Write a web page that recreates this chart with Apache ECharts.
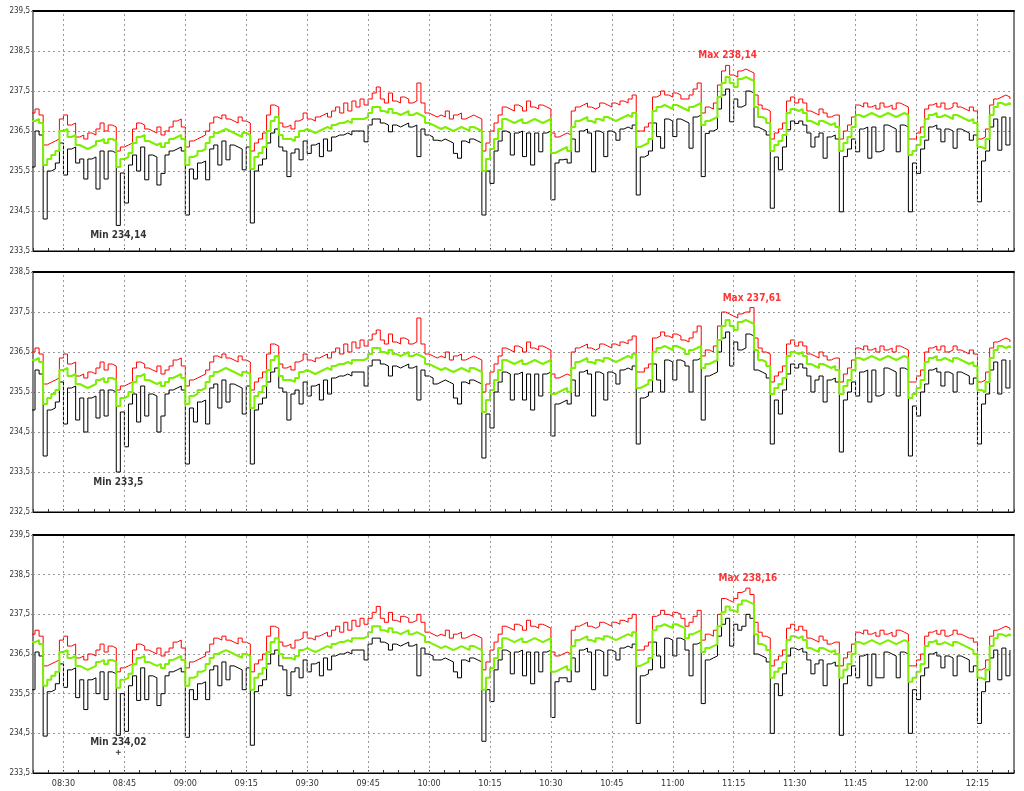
<!DOCTYPE html>
<html><head><meta charset="utf-8">
<script src="https://cdn.jsdelivr.net/npm/echarts@6/dist/echarts.min.js"></script>
<style>html,body{margin:0;padding:0;background:#fff}#c{width:1024px;height:791px}</style>
</head><body><div id="c"></div>
<script>
// first sample 08:22, one sample per minute (each value drawn for the minute that follows it)
const startTime = '08:22';
const timeLabels = ['08:30','08:45','09:00','09:15','09:30','09:45','10:00','10:15','10:30','10:45','11:00','11:15','11:30','11:45','12:00','12:15'];
const panelNames = ['L1N (V)','L2N (V)','L3N (V)'];
const yMins = [233.5, 232.5, 233.5];
const maxMarks = [238.14, 237.61, 238.16];
const maxAt = ['11:13','11:19','11:18'];
const minMarks = [234.14, 233.5, 234.02];
const minAt = ['08:43','08:43','08:43'];

const avg1 = [
236.75,236.8,236.7,235.65,235.8,235.9,236.0,236.5,236.55,236.35,
236.4,236.15,236.1,236.05,236.1,236.15,236.25,236.3,236.2,236.3,
236.25,235.6,235.8,235.85,235.95,236.2,236.35,236.4,236.25,236.2,
236.15,236.2,236.1,236.2,236.3,236.35,236.4,236.3,235.65,235.85,
235.9,236.0,236.05,236.2,236.35,236.45,236.5,236.55,236.5,236.45,
236.4,236.35,236.45,236.4,235.55,235.85,235.95,236.1,236.5,236.75,
236.85,236.4,236.3,236.3,236.25,236.35,236.5,236.55,236.5,236.45,
236.5,236.55,236.6,236.55,236.65,236.7,236.7,236.75,236.7,236.8,
236.8,236.8,236.85,236.95,237.1,237.1,237.0,236.95,237.05,236.95,
236.9,236.95,237.0,236.9,236.95,236.9,236.85,236.7,236.65,236.6,
236.55,236.6,236.55,236.5,236.55,236.6,236.55,236.5,236.6,236.55,
236.5,235.5,235.8,236.05,236.3,236.55,236.8,236.75,236.7,236.75,
236.8,236.7,236.75,236.8,236.75,236.7,236.75,236.8,235.95,236.0,
236.05,236.1,236.0,236.6,236.75,236.8,236.85,236.75,236.7,236.8,
236.75,236.85,236.8,236.75,236.8,236.85,236.9,236.85,236.95,236.1,
236.15,236.2,236.3,237.0,237.1,237.15,237.1,237.05,237.15,237.1,
237.05,237.0,237.1,237.15,237.2,236.65,236.75,236.8,236.85,237.35,
237.7,237.85,237.7,237.6,237.8,237.85,237.8,237.75,237.1,236.85,
236.8,236.7,236.0,236.15,236.25,236.4,236.95,237.05,237.0,237.05,
236.95,236.75,236.7,236.65,236.75,236.7,236.65,236.7,236.6,236.0,
236.2,236.35,236.6,236.9,236.85,236.9,236.95,236.9,236.85,236.9,
236.95,236.9,236.85,236.9,236.95,236.9,235.9,236.0,236.15,236.35,
236.8,236.9,236.95,236.85,236.9,236.85,236.8,236.9,236.85,236.8,
236.75,236.8,236.7,236.1,236.05,236.3,236.9,237.1,237.2,237.15,
237.2,237.15];
const max1 = [
236.95,237.05,236.9,236.15,236.2,236.25,236.3,236.8,236.9,236.65,
236.7,236.35,236.4,236.3,236.45,236.4,236.55,236.7,236.5,236.65,
236.6,236.0,236.1,236.15,236.2,236.55,236.7,236.65,236.55,236.5,
236.45,236.6,236.4,236.5,236.6,236.75,236.8,236.6,236.1,236.25,
236.3,236.35,236.4,236.5,236.7,236.85,236.8,236.9,236.8,236.75,
236.7,236.85,236.75,236.7,236.0,236.2,236.3,236.45,236.9,237.15,
237.1,236.7,236.6,236.65,236.55,236.75,236.8,236.95,236.8,236.75,
236.85,236.9,236.95,236.85,237.0,237.1,236.95,237.2,237.0,237.25,
237.1,237.3,237.15,237.3,237.45,237.6,237.3,237.2,237.45,237.25,
237.2,237.35,237.3,237.2,237.25,237.7,237.2,236.95,236.9,236.85,
236.9,236.85,237.0,236.8,236.9,236.95,236.8,236.85,236.9,236.85,
236.8,236.0,236.2,236.5,236.7,236.9,237.1,237.05,237.0,237.15,
237.1,237.0,237.25,237.1,237.05,237.15,237.1,237.05,236.45,236.35,
236.4,236.45,236.4,237.0,237.1,237.15,237.2,237.1,237.05,237.1,
237.2,237.15,237.1,237.2,237.15,237.25,237.2,237.3,237.4,236.5,
236.5,236.6,236.7,237.35,237.4,237.5,237.4,237.35,237.45,237.4,
237.3,237.3,237.4,237.55,237.7,236.95,237.1,237.05,237.2,237.65,
238.0,238.14,237.9,237.85,238.0,238.05,238.0,237.95,237.4,237.15,
237.05,237.0,236.3,236.45,236.55,236.7,237.25,237.35,237.2,237.3,
237.2,237.0,236.95,236.9,237.05,236.95,236.85,236.9,236.9,236.3,
236.5,236.65,236.85,237.15,237.1,237.2,237.1,237.15,237.05,237.2,
237.1,237.15,237.05,237.2,237.15,237.1,236.3,236.3,236.45,236.6,
237.05,237.15,237.2,237.1,237.2,237.05,237.1,237.2,237.1,237.05,
237.0,237.1,237.0,236.3,236.35,236.55,237.15,237.3,237.35,237.4,
237.35,237.3];
const min1 = [
235.6,236.5,236.4,234.3,235.5,235.55,235.7,236.2,235.4,236.05,
236.1,235.7,235.8,235.3,235.8,235.85,235.05,236.0,235.3,236.0,
235.95,234.14,235.45,234.7,235.65,235.9,235.5,236.1,235.28,235.9,
235.85,235.15,235.44,235.9,236.0,236.05,236.1,236.0,234.4,235.55,
235.3,235.7,235.75,235.28,236.05,236.15,235.65,236.25,235.78,236.15,
236.1,236.05,235.53,236.1,234.2,235.5,235.65,235.8,236.2,236.45,
236.55,236.1,236.0,235.36,235.95,236.05,235.78,236.25,235.94,236.15,
236.2,235.86,236.3,236.0,236.35,236.4,236.4,236.45,236.4,236.5,
236.5,236.5,236.23,236.65,236.8,236.8,236.7,236.65,236.48,236.65,
236.6,236.65,236.7,236.6,236.65,235.86,236.55,236.4,236.35,236.27,
236.25,236.3,236.25,236.2,235.94,235.82,236.25,236.2,236.3,236.25,
236.2,234.4,235.5,235.19,236.0,236.25,236.5,236.45,235.9,236.45,
236.5,235.86,236.45,235.65,236.45,235.98,236.45,236.5,234.78,235.7,
235.78,235.8,235.7,236.3,235.98,236.5,236.55,236.45,235.48,236.5,
236.45,235.86,236.5,236.45,236.27,236.55,236.6,236.55,236.65,234.9,
235.85,235.9,236.0,236.7,236.36,236.07,236.8,236.75,236.36,236.8,
236.75,236.7,236.07,236.85,236.9,235.36,236.44,236.5,236.55,237.05,
237.4,237.55,236.73,237.3,237.1,237.15,237.5,237.45,236.6,236.55,
236.5,236.4,234.57,235.85,235.53,236.1,236.53,236.75,236.69,236.75,
236.65,236.45,236.1,236.35,236.45,235.82,236.35,236.4,236.3,234.48,
235.86,236.05,236.3,235.98,236.55,236.6,235.82,236.6,235.98,236.02,
236.65,236.6,236.55,235.98,236.65,236.6,234.48,235.7,235.44,236.05,
236.27,236.6,236.65,236.55,236.23,236.55,236.5,236.07,236.55,236.5,
236.45,236.27,236.4,234.73,235.75,236.0,236.6,236.8,236.02,236.85,
236.15,236.85];

const avg2 = [
236.30,236.35,236.25,235.20,235.35,235.45,235.55,236.05,236.10,235.90,
235.95,235.70,235.65,235.60,235.65,235.70,235.80,235.85,235.75,235.85,
235.80,235.15,235.35,235.40,235.50,235.75,235.90,235.95,235.80,235.75,
235.70,235.75,235.65,235.75,235.85,235.90,235.95,235.85,235.20,235.40,
235.45,235.55,235.60,235.75,235.90,236.00,236.05,236.10,236.05,236.00,
235.95,235.90,236.00,235.95,235.10,235.40,235.50,235.65,236.05,236.30,
236.40,235.90,235.80,235.80,235.75,235.85,236.00,236.05,236.00,235.95,
236.00,236.05,236.10,236.05,236.15,236.20,236.20,236.25,236.20,236.30,
236.30,236.30,236.35,236.45,236.60,236.60,236.50,236.45,236.55,236.45,
236.40,236.45,236.50,236.40,236.45,236.40,236.35,236.20,236.15,236.10,
236.05,236.10,236.05,236.00,236.05,236.10,236.05,236.00,236.10,236.05,
236.00,235.00,235.30,235.55,235.80,236.05,236.30,236.25,236.20,236.25,
236.30,236.20,236.25,236.30,236.25,236.20,236.25,236.30,235.45,235.50,
235.55,235.60,235.50,236.10,236.25,236.30,236.35,236.25,236.20,236.30,
236.25,236.35,236.30,236.25,236.30,236.35,236.40,236.35,236.45,235.60,
235.65,235.70,235.80,236.50,236.60,236.65,236.60,236.55,236.65,236.60,
236.55,236.45,236.55,236.60,236.65,236.10,236.20,236.25,236.30,236.80,
237.15,237.30,237.15,237.05,237.25,237.30,237.25,237.20,236.55,236.30,
236.25,236.15,235.45,235.60,235.70,235.85,236.40,236.50,236.45,236.50,
236.40,236.20,236.15,236.10,236.20,236.15,236.10,236.15,236.05,235.45,
235.65,235.80,236.05,236.35,236.30,236.35,236.40,236.35,236.30,236.35,
236.40,236.35,236.30,236.35,236.40,236.35,235.35,235.45,235.60,235.80,
236.25,236.35,236.40,236.30,236.35,236.30,236.25,236.35,236.30,236.25,
236.20,236.25,236.15,235.55,235.50,235.75,236.35,236.55,236.65,236.60,
236.65,236.60];
const max2 = [
236.50,236.60,236.45,235.70,235.75,235.80,235.85,236.35,236.45,236.20,
236.25,235.90,235.95,235.85,236.00,235.95,236.10,236.25,236.05,236.20,
236.15,235.55,235.65,235.70,235.75,236.10,236.25,236.20,236.10,236.05,
236.00,236.15,235.95,236.05,236.15,236.30,236.35,236.15,235.65,235.80,
235.85,235.90,235.95,236.05,236.25,236.40,236.35,236.45,236.35,236.30,
236.25,236.40,236.30,236.25,235.55,235.75,235.85,236.00,236.45,236.70,
236.65,236.20,236.10,236.15,236.05,236.25,236.30,236.45,236.30,236.25,
236.35,236.40,236.45,236.35,236.50,236.60,236.45,236.70,236.50,236.75,
236.60,236.80,236.65,236.80,236.95,237.05,236.80,236.70,236.95,236.75,
236.70,236.85,236.80,236.70,236.75,237.35,236.70,236.45,236.40,236.35,
236.40,236.35,236.50,236.30,236.40,236.45,236.30,236.35,236.40,236.35,
236.30,235.50,235.70,236.00,236.20,236.40,236.60,236.55,236.50,236.65,
236.60,236.50,236.75,236.60,236.55,236.65,236.60,236.55,235.95,235.85,
235.90,235.95,235.90,236.50,236.60,236.65,236.70,236.60,236.55,236.60,
236.70,236.65,236.60,236.70,236.65,236.75,236.70,236.80,236.90,236.00,
236.00,236.10,236.20,236.85,236.90,237.00,236.90,236.85,236.95,236.90,
236.80,236.75,236.85,237.00,237.15,236.40,236.55,236.50,236.65,237.15,
237.50,237.45,237.40,237.35,237.45,237.50,237.50,237.61,236.85,236.60,
236.50,236.45,235.75,235.90,236.00,236.15,236.70,236.80,236.65,236.75,
236.65,236.45,236.40,236.35,236.50,236.40,236.30,236.35,236.35,235.75,
235.95,236.10,236.30,236.60,236.55,236.65,236.55,236.60,236.50,236.65,
236.55,236.60,236.50,236.65,236.60,236.55,235.75,235.75,235.90,236.05,
236.50,236.60,236.65,236.55,236.65,236.50,236.55,236.65,236.55,236.50,
236.45,236.55,236.45,235.75,235.80,236.00,236.60,236.75,236.80,236.85,
236.80,236.75];
const min2 = [
235.05,236.05,235.95,233.90,235.05,235.10,235.25,235.75,234.70,235.60,
235.65,234.80,235.35,234.50,235.35,235.40,234.85,235.55,234.90,235.55,
235.50,233.50,235.00,234.13,235.20,235.45,234.75,235.65,234.90,235.45,
235.40,234.50,234.90,235.45,235.55,235.60,235.65,235.55,233.70,235.10,
234.75,235.25,235.30,234.70,235.60,235.70,235.10,235.80,235.25,235.70,
235.65,235.60,234.95,235.65,233.70,235.05,235.20,235.35,235.75,236.00,
236.10,235.60,235.50,234.80,235.45,235.55,235.20,235.75,235.40,235.65,
235.70,235.30,235.80,235.45,235.85,235.90,235.90,235.95,235.90,236.00,
236.00,236.00,235.65,236.15,236.30,236.30,236.20,236.15,235.90,236.15,
236.10,236.15,236.20,236.10,236.15,235.30,236.05,235.90,235.85,235.70,
235.75,235.80,235.75,235.70,235.35,235.20,235.75,235.70,235.80,235.75,
235.70,233.85,234.95,234.60,235.50,235.75,236.00,235.95,235.30,235.95,
236.00,235.30,235.95,235.05,235.95,235.40,235.95,236.00,234.40,235.20,
235.25,235.30,235.20,235.80,235.40,236.00,236.05,235.95,234.90,236.00,
235.95,235.30,236.00,235.95,235.70,236.05,236.10,236.05,236.15,234.20,
235.35,235.40,235.50,236.20,235.80,235.50,236.30,236.25,235.80,236.30,
236.25,236.15,235.50,236.30,236.35,234.80,235.90,235.95,236.00,236.50,
236.85,237.00,236.15,236.75,236.55,236.60,236.95,236.90,236.05,236.00,
235.95,235.85,234.20,235.30,234.95,235.55,235.95,236.20,236.10,236.20,
236.10,235.90,235.50,235.80,235.90,235.25,235.80,235.85,235.75,234.00,
235.30,235.50,235.75,235.40,236.00,236.05,235.25,236.05,235.40,235.45,
236.10,236.05,236.00,235.40,236.10,236.05,233.90,235.15,234.90,235.50,
235.70,236.05,236.10,236.00,235.65,236.00,235.95,235.50,236.00,235.95,
235.90,235.70,235.85,234.20,235.20,235.45,236.05,236.25,235.45,236.30,
235.60,236.30];

const avg3 = [
236.80,236.85,236.75,235.70,235.85,235.95,236.05,236.55,236.60,236.40,
236.45,236.20,236.15,236.10,236.15,236.20,236.30,236.35,236.25,236.35,
236.30,235.65,235.85,235.90,236.00,236.25,236.40,236.45,236.30,236.25,
236.20,236.25,236.15,236.25,236.35,236.40,236.45,236.35,235.70,235.90,
235.95,236.05,236.10,236.25,236.40,236.50,236.55,236.60,236.55,236.50,
236.45,236.40,236.50,236.45,235.60,235.90,236.00,236.15,236.55,236.80,
236.90,236.50,236.40,236.40,236.35,236.45,236.60,236.65,236.60,236.55,
236.60,236.65,236.70,236.65,236.75,236.80,236.80,236.85,236.80,236.90,
236.90,236.90,236.95,237.05,237.20,237.20,237.10,237.05,237.15,237.05,
237.00,237.05,237.10,237.00,237.05,237.00,236.95,236.80,236.75,236.70,
236.65,236.70,236.65,236.60,236.65,236.70,236.65,236.60,236.70,236.65,
236.60,235.60,235.90,236.15,236.40,236.65,236.90,236.85,236.80,236.85,
236.90,236.80,236.85,236.90,236.85,236.80,236.85,236.90,236.05,236.10,
236.15,236.20,236.10,236.70,236.85,236.90,236.95,236.85,236.80,236.90,
236.85,236.95,236.90,236.85,236.90,236.95,237.00,236.95,237.05,236.20,
236.25,236.30,236.40,237.10,237.20,237.25,237.20,237.15,237.25,237.20,
237.15,236.90,237.00,237.05,237.10,236.55,236.65,236.70,236.75,237.20,
237.55,237.70,237.60,237.55,237.75,237.85,237.80,237.75,237.00,236.75,
236.70,236.60,235.90,236.05,236.15,236.30,236.85,236.95,236.90,236.95,
236.85,236.65,236.60,236.55,236.65,236.60,236.55,236.60,236.50,235.90,
236.10,236.25,236.50,236.80,236.75,236.80,236.85,236.80,236.75,236.80,
236.85,236.80,236.75,236.80,236.85,236.80,235.80,235.90,236.05,236.25,
236.70,236.80,236.85,236.75,236.80,236.75,236.70,236.80,236.75,236.70,
236.65,236.60,236.50,235.90,235.85,236.10,236.70,236.90,237.00,236.95,
237.00,236.95];
const max3 = [
237.00,237.10,236.95,236.20,236.25,236.30,236.35,236.85,236.95,236.70,
236.75,236.40,236.45,236.35,236.50,236.45,236.60,236.75,236.55,236.70,
236.65,236.05,236.15,236.20,236.25,236.60,236.75,236.70,236.60,236.55,
236.50,236.65,236.45,236.55,236.65,236.80,236.85,236.65,236.15,236.30,
236.35,236.40,236.45,236.55,236.75,236.90,236.85,236.95,236.85,236.80,
236.75,236.90,236.80,236.75,236.05,236.25,236.35,236.50,236.95,237.20,
237.15,236.80,236.70,236.75,236.65,236.85,236.90,237.05,236.90,236.85,
236.95,237.00,237.05,236.95,237.10,237.20,237.05,237.30,237.10,237.35,
237.20,237.40,237.25,237.40,237.55,237.70,237.40,237.30,237.55,237.35,
237.30,237.45,237.40,237.30,237.35,237.50,237.30,237.05,237.00,236.95,
237.00,236.95,237.10,236.90,237.00,237.05,236.90,236.95,237.00,236.95,
236.90,236.10,236.30,236.60,236.80,237.00,237.20,237.15,237.10,237.25,
237.20,237.10,237.35,237.20,237.15,237.25,237.20,237.15,236.55,236.45,
236.50,236.55,236.50,237.10,237.20,237.25,237.30,237.20,237.15,237.20,
237.30,237.25,237.20,237.30,237.25,237.35,237.30,237.40,237.50,236.60,
236.60,236.70,236.80,237.45,237.50,237.60,237.50,237.45,237.55,237.50,
237.40,237.20,237.30,237.45,237.60,236.85,237.00,236.95,237.10,237.50,
237.90,237.85,237.80,237.90,238.05,238.10,238.16,238.00,237.30,237.05,
236.95,236.90,236.20,236.35,236.45,236.60,237.15,237.25,237.10,237.20,
237.10,236.90,236.85,236.80,236.95,236.85,236.75,236.80,236.80,236.20,
236.40,236.55,236.75,237.05,237.00,237.10,237.00,237.05,236.95,237.10,
237.00,237.05,236.95,237.10,237.05,237.00,236.20,236.20,236.35,236.50,
236.95,237.05,237.10,237.00,237.10,236.95,237.00,237.10,237.00,236.95,
236.90,236.90,236.80,236.10,236.15,236.35,236.95,237.10,237.15,237.20,
237.15,237.10];
const min3 = [
235.60,236.55,236.45,234.43,235.55,235.60,235.75,236.25,235.66,236.10,
236.15,235.40,235.85,235.10,235.85,235.90,235.50,236.05,235.35,236.05,
236.00,234.45,235.50,234.55,235.70,235.95,235.33,236.15,235.35,235.95,
235.90,235.20,235.50,235.95,236.05,236.10,236.15,236.05,234.40,235.60,
235.35,235.75,235.80,235.35,236.10,236.20,235.70,236.30,235.85,236.20,
236.15,236.10,235.60,236.15,234.20,235.55,235.70,235.85,236.25,236.50,
236.60,236.20,236.10,235.45,236.05,236.15,235.90,236.35,236.05,236.25,
236.30,235.95,236.40,236.10,236.45,236.50,236.50,236.55,236.50,236.60,
236.60,236.60,236.35,236.75,236.90,236.90,236.80,236.75,236.60,236.75,
236.70,236.75,236.80,236.70,236.75,235.95,236.65,236.50,236.45,236.35,
236.35,236.40,236.35,236.30,236.05,235.90,236.35,236.30,236.40,236.35,
236.30,234.30,235.60,235.30,236.10,236.35,236.60,236.55,236.00,236.55,
236.60,235.95,236.55,235.75,236.55,236.05,236.55,236.60,234.90,235.80,
235.90,235.90,235.80,236.40,236.05,236.60,236.65,236.55,235.60,236.60,
236.55,235.95,236.60,236.55,236.35,236.65,236.70,236.65,236.75,234.75,
235.95,236.00,236.10,236.80,236.45,236.15,236.90,236.85,236.45,236.90,
236.85,236.60,235.95,236.75,236.80,235.25,236.35,236.40,236.45,236.95,
237.25,237.40,236.70,237.25,237.10,237.20,237.50,237.40,236.50,236.45,
236.40,236.30,234.50,235.75,235.45,236.00,236.45,236.65,236.60,236.65,
236.55,236.35,236.00,236.25,236.35,235.70,236.25,236.30,236.20,234.45,
235.75,235.95,236.20,235.90,236.45,236.50,235.70,236.50,235.90,235.90,
236.55,236.50,236.45,235.90,236.55,236.50,234.50,235.60,235.35,235.95,
236.15,236.50,236.55,236.45,236.15,236.45,236.40,235.95,236.45,236.40,
236.35,236.05,236.20,234.75,235.55,235.80,236.40,236.60,235.85,236.65,
235.95,236.60];

const avgSeries = [avg1, avg2, avg3];
const maxSeries = [max1, max2, max3];
const minSeries = [min1, min2, min3];

function toMin(s){ const p = s.split(':').map(Number); return p[0]*60 + p[1]; }
const START = toMin(startTime);
const AX_MIN = START + 0.5;          // 08:22:30 (multiple of 3.75 min)
const AX_MAX = START + 242;
const tickMinutes = timeLabels.map(toMin);
function fmtTime(v){
  for (let i = 0; i < tickMinutes.length; i++) if (Math.abs(v - tickMinutes[i]) < 0.01) return timeLabels[i];
  return '';
}
function comma(v){ return String(v).replace('.', ','); }
const FONT = '"Liberation Sans Narrow","DejaVu Sans Condensed","Arial Narrow",sans-serif';

const tops = [11, 272, 535];
const heights = [240, 240, 238];
const minLabelPos = ['bottom', 'bottom', 'top'];

const option = { animation: false, backgroundColor: '#fff', grid: [], xAxis: [], yAxis: [], series: [] };

for (let i = 0; i < 3; i++) {
  option.grid.push({ left: 33, right: 10, top: tops[i], height: heights[i], containLabel: false, outerBoundsMode: 'none',
    show: true, borderColor: '#000', borderWidth: 1, backgroundColor: '#fff' });
  option.xAxis.push({
    type: 'value', gridIndex: i, min: AX_MIN, max: AX_MAX, interval: 3.75, position: 'bottom',
    axisLine: { show: true, onZero: false, lineStyle: { color: '#000', width: 1 } },
    axisTick: { show: true, inside: true, length: 3, lineStyle: { color: '#333' } },
    axisLabel: { show: i === 2, formatter: fmtTime, fontSize: 9, color: '#333', fontFamily: FONT, margin: 6, showMinLabel: true, showMaxLabel: true },
    splitLine: { show: false }
  });
  option.yAxis.push({
    type: 'value', gridIndex: i, min: yMins[i], max: yMins[i] + 6, interval: 1,
    name: panelNames[i], nameLocation: 'middle', nameGap: 25,
    nameTextStyle: { fontSize: 8, color: '#333', fontFamily: FONT },
    axisLine: { show: true, lineStyle: { color: '#888' } },
    axisTick: { show: true, length: 2, lineStyle: { color: '#888' } },
    axisLabel: { fontSize: 8, color: '#333', fontFamily: FONT, margin: 3, formatter: v => v.toFixed(1).replace('.', ',') },
    splitLine: { show: true, lineStyle: { color: '#999', type: [2, 3], width: 1 } }
  });
}
for (let i = 0; i < 3; i++) {
  option.xAxis.push({
    type: 'value', gridIndex: i, min: AX_MIN, max: AX_MAX, position: 'top',
    axisLine: { show: true, onZero: false, lineStyle: { color: '#000', width: 2 } },
    axisTick: { show: false }, axisLabel: { show: false }, splitLine: { show: false }
  });
}

for (let i = 0; i < 3; i++) {
  // vertical dashed grid lines at the labelled times
  option.series.push({
    type: 'line', xAxisIndex: i, yAxisIndex: i, z: 1, silent: true,
    data: [[AX_MIN, yMins[i]]], showSymbol: false, lineStyle: { opacity: 0 },
    markLine: { silent: true, symbol: ['none', 'none'], label: { show: false }, animation: false,
      lineStyle: { color: '#999', type: [2, 3], width: 1 },
      data: tickMinutes.map(t => ({ xAxis: t })) }
  });
  const mk = arr => arr.map((v, k) => [START + k, v]);
  option.series.push({ type: 'line', step: 'end', xAxisIndex: i, yAxisIndex: i, z: 2, silent: true,
    data: mk(minSeries[i]), showSymbol: false, symbol: 'none', lineStyle: { color: '#000', width: 1 } });
  option.series.push({ type: 'line', step: 'end', xAxisIndex: i, yAxisIndex: i, z: 3, silent: true,
    data: mk(maxSeries[i]), showSymbol: false, symbol: 'none', lineStyle: { color: '#ff0000', width: 1 } });
  option.series.push({ type: 'line', step: 'end', xAxisIndex: i, yAxisIndex: i, z: 4, silent: true,
    data: mk(avgSeries[i]), showSymbol: false, symbol: 'none', lineStyle: { color: '#7cf000', width: 2 } });
  const plusSym = 'path://M4,0h2v4h4v2h-4v4h-2v-4h-4v-2h4z';
  const showPlus = minLabelPos[i] === 'top';
  option.series.push({
    type: 'scatter', xAxisIndex: i, yAxisIndex: i, z: 6, silent: true,
    data: [
      { value: [toMin(maxAt[i]) + 0.5, maxMarks[i]], symbol: 'circle', symbolSize: 1, itemStyle: { color: 'rgba(0,0,0,0)' },
        label: { show: true, position: 'top', distance: 4, formatter: 'Max ' + comma(maxMarks[i]), color: '#ff0000', fontWeight: 'bold', fontSize: 10, fontFamily: FONT } },
      { value: [toMin(minAt[i]) + 0.5, minMarks[i]], symbol: showPlus ? plusSym : 'circle', symbolSize: showPlus ? 5 : 1,
        itemStyle: { color: showPlus ? '#000' : 'rgba(0,0,0,0)' },
        label: { show: true, position: minLabelPos[i], distance: showPlus ? 2 : 5, formatter: 'Min ' + comma(minMarks[i]), color: '#000', fontWeight: 'bold', fontSize: 10, fontFamily: FONT } }
    ]
  });
}

const chart = echarts.init(document.getElementById('c'), null, { renderer: 'canvas' });
chart.setOption(option);
</script>
</body></html>
